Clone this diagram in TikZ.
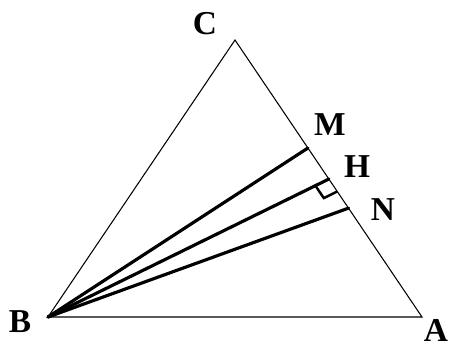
\documentclass[tikz,border=0pt]{standalone}
\usepackage{fontspec}
\setmainfont{Liberation Serif}
\usetikzlibrary{calc, positioning}

\begin{document}
\begin{tikzpicture}[
    side/.style={line width=0.6pt},
    ray/.style={line width=1.8pt, line cap=round},
    lbl/.style={font=\fontsize{19}{21}\selectfont\bfseries, inner sep=0pt}
]
    \useasboundingbox (0,0) rectangle (9,6.98);

    % Vertices
    \coordinate (B) at (0.96,0.64);
    \coordinate (A) at (8.44,0.64);
    \coordinate (C) at (4.70,6.18);
    \coordinate (M) at ($(C)!0.39!(A)$);
    \coordinate (H) at ($(C)!0.502!(A)$);
    \coordinate (N) at ($(C)!0.607!(A)$);

    % Triangle
    \draw[side] (B) -- (A) -- (C) -- cycle;

    % Segments from B
    \draw[ray] (B) -- (M);
    \draw[ray] (B) -- (H);
    \draw[ray] (B) -- (N);

    % Right angle mark
    \coordinate (p) at ($(H)!0.3cm!(B)$);
    \coordinate (q) at ($(H)!0.3cm!(A)$);
    \draw[line width=1.4pt] (p) -- ($(p)+(q)-(H)$) -- (q);

    % Labels
    \node[lbl] (lC) at (4.10,6.50) {C};
    \node[lbl] (lM) at (6.60,4.48) {M};
    \node[lbl] (lH) at (7.14,3.64) {H};
    \node[lbl] (lN) at (7.66,2.78) {N};
    \node[lbl] (lB) at (0.40,0.54) {B};
    \node[lbl] (lA) at (8.72,0.38) {A};
\end{tikzpicture}
\end{document}
